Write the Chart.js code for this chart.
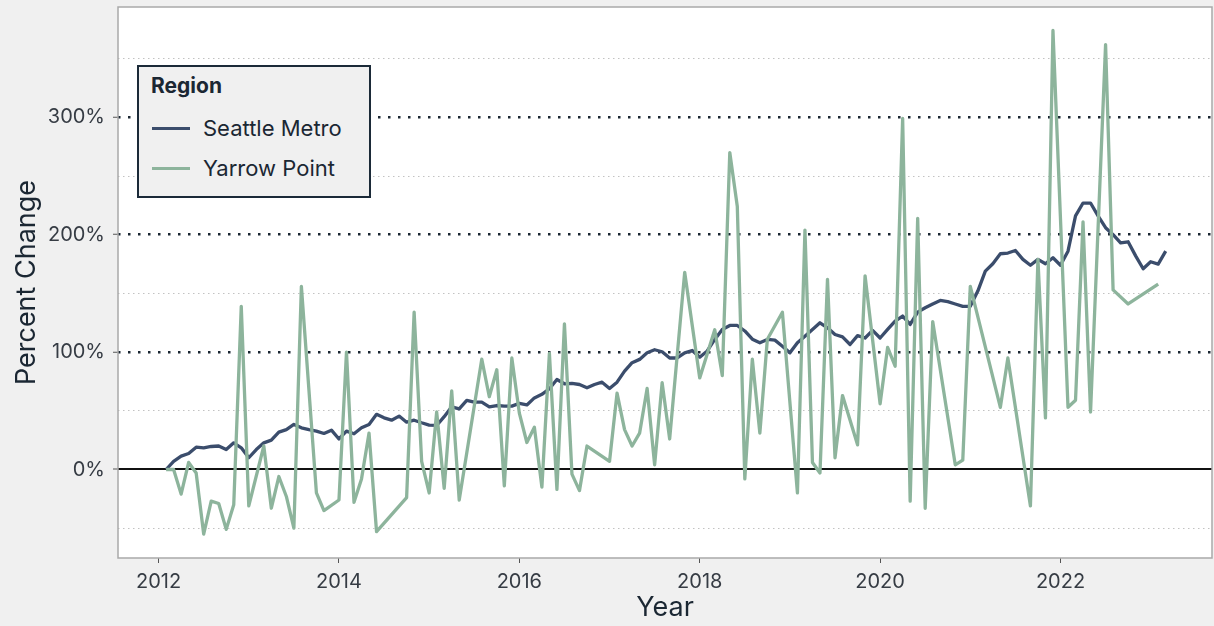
<!DOCTYPE html>
<html>
<head>
<meta charset="utf-8">
<title>Percent Change by Region</title>
<script src="https://cdn.jsdelivr.net/npm/chart.js@4.4.0/dist/chart.umd.min.js"></script>
<style>
  html, body { margin: 0; padding: 0; background: #f0f0f0; }
  #wrap { position: relative; width: 1214px; height: 626px; }
  #legend {
    position: absolute; left: 137px; top: 65px; width: 234px; height: 133px;
    box-sizing: border-box; border: 2px solid #1b2a38; background: #f0f0f0;
    font-family: Inter, "Noto Sans", sans-serif; color: #1b2733;
  }
  #legend .title { position: absolute; left: 12px; top: 6px; line-height: 26px; font-size: 21px; font-weight: 700; }
  #legend .item { position: absolute; left: 13px; height: 24px; display: flex; align-items: center; }
  #legend .swatch { width: 38px; height: 3px; margin-right: 13px; }
  #legend .label { font-size: 22px; }
</style>
</head>
<body>
<div id="wrap">
  <canvas id="chart" width="1214" height="626"></canvas>
  <div id="legend"></div>
</div>
<script>
// monthly series, first value is Feb 2012
const startYear = 2012;
const startMonth = 2;

const seattleMetro = [
  0, 7, 11.4, 13.6, 19, 18.5, 19.6, 20, 17, 22.7, 18.5,
  10, 17, 22.7, 25, 31.8, 34, 38.4, 35.5, 34, 32.7, 30.7, 33.5,
  26, 32.7, 30.4, 35.5, 38.4, 47, 44, 42, 45.5, 40.3, 42, 39.8,
  37.8, 37.5, 45, 53.4, 51.7, 58.8, 57.4, 57.4, 53.4, 54.5, 54, 54,
  56.3, 55, 61, 64, 68.8, 76.7, 73, 73.3, 72.4, 69.6, 72.4, 74.4,
  69, 74.4, 83.8, 91, 93.8, 99.4, 102, 100.3, 95, 95, 99.4, 101.4,
  95.7, 101, 110.8, 119.3, 122.7, 122.7, 118, 111, 108, 110.8, 110.2, 105,
  99.4, 108, 113.6, 119.3, 125, 120.7, 115, 113, 106.5, 114, 112, 118.5,
  112, 119.3, 126.4, 130.7, 123.6, 134, 137.8, 141, 144, 143, 141, 139,
  139, 152, 169, 175.3, 183.8, 184.4, 186.6, 179, 174, 179, 175.3, 180.4,
  174, 186, 216, 227, 227, 216, 206, 200, 193, 194, 182, 171,
  177, 175, 186
];

// null = no sales that month
const yarrowPoint = [
  0, 0, -21, 6, -3, -55, -27, -29, -51, -30, 139,
  -31, null, 20, -33, -6, -23, -50, 156, null, -20, -35, null,
  -26, 100, -28, -8, 31, -53, null, null, null, -24, 134, 7,
  -20, 49, -16, 67, -26, null, null, 94, 62, 85, -14, 95,
  48, 23, 36, -15, 99, -17, 124, -4, -18, 20, null, null,
  7, 65, 34, 20, 31, 69, 4, 74, 26, null, 168, null,
  78, null, 119, 80, 270, 224, -8, 94, 31, 111, null, 134,
  null, -20, 204, 6, -3, 162, 10, 63, null, 21, 165, null,
  56, 104, 88, 299, -27, 214, -33, 126, null, null, 4, 8,
  156, null, null, null, 53, 95, null, null, -31, 179, 44, 374,
  null, 53, 59, 211, 49, null, 362, 153, null, 141, null, null,
  null, 158, null
];

const yearTicks = [2012, 2014, 2016, 2018, 2020, 2022];
const percentTicks = [-50, 0, 50, 100, 150, 200, 250, 300, 350];
const labeledPercents = [0, 100, 200, 300];

const monthX = seattleMetro.map((_, i) => startYear + (startMonth - 1 + i) / 12);
const toPoints = arr => arr.map((v, i) => ({ x: monthX[i], y: v }));

const textColor = '#363c44';
const titleColor = '#1b2733';
const fontFamily = 'Inter, "Noto Sans", sans-serif';

const panel = {
  id: 'panel',
  beforeDraw(chart) {
    const { ctx, chartArea: a } = chart;
    ctx.save();
    ctx.fillStyle = '#ffffff';
    ctx.fillRect(a.left, a.top, a.right - a.left, a.bottom - a.top);
    ctx.restore();
  },
  afterDraw(chart) {
    const { ctx, chartArea: a } = chart;
    ctx.save();
    ctx.strokeStyle = '#a9a9a9';
    ctx.lineWidth = 1.5;
    ctx.strokeRect(a.left, a.top, a.right - a.left, a.bottom - a.top);
    ctx.restore();
  }
};

const isMajor = v => labeledPercents.includes(v);

const chart = new Chart(document.getElementById('chart'), {
  type: 'line',
  data: {
    datasets: [
      {
        label: 'Seattle Metro',
        data: toPoints(seattleMetro),
        borderColor: '#3b4d6c',
        borderWidth: 3.3,
        pointRadius: 0,
        tension: 0,
        borderJoinStyle: 'round',
        order: 1
      },
      {
        label: 'Yarrow Point',
        data: toPoints(yarrowPoint),
        borderColor: '#8db49c',
        borderWidth: 3.3,
        pointRadius: 0,
        tension: 0,
        spanGaps: true,
        borderJoinStyle: 'round',
        order: 0
      }
    ]
  },
  options: {
    responsive: false,
    animation: false,
    devicePixelRatio: 1,
    events: [],
    layout: { padding: { top: 7, right: 2, left: 0, bottom: 0 } },
    plugins: {
      legend: { display: false },
      tooltip: { enabled: false }
    },
    scales: {
      x: {
        type: 'linear',
        min: 2011.55,
        max: 2023.68,
        afterBuildTicks: scale => { scale.ticks = yearTicks.map(v => ({ value: v })); },
        afterFit: scale => {
          scale.height = 68;
          scale.paddingLeft = 0;
          scale.paddingRight = 0;
        },
        ticks: {
          callback: v => String(v),
          color: textColor,
          font: { family: fontFamily, size: 20 },
          padding: 7,
          maxRotation: 0,
          autoSkip: false
        },
        grid: { drawOnChartArea: false, tickLength: 5, tickColor: '#555', tickWidth: 1 },
        border: { display: false },
        title: {
          display: true,
          text: 'Year',
          color: titleColor,
          font: { family: fontFamily, size: 27 },
          padding: { top: 0, bottom: 2 }
        }
      },
      y: {
        min: -75.4,
        max: 394,
        afterBuildTicks: scale => { scale.ticks = percentTicks.map(v => ({ value: v })); },
        afterFit: scale => {
          scale.width = 118;
          scale.paddingTop = 0;
          scale.paddingBottom = 0;
        },
        ticks: {
          callback: v => (isMajor(v) ? v + '%' : ''),
          color: textColor,
          font: { family: fontFamily, size: 20 },
          padding: 8,
          autoSkip: false
        },
        grid: {
          color: ctx => (ctx.tick.value === 0 ? '#111111' : isMajor(ctx.tick.value) ? '#1b2733' : '#c2c2c2'),
          lineWidth: ctx => (ctx.tick.value === 0 ? 2 : isMajor(ctx.tick.value) ? 2.5 : 1),
          tickColor: ctx => (isMajor(ctx.tick.value) ? '#555' : 'rgba(0,0,0,0)'),
          tickLength: 5,
          tickWidth: 1
        },
        border: {
          display: false,
          dash: ctx => (ctx.tick.value === 0 ? [] : isMajor(ctx.tick.value) ? [2.5, 7.5] : [1.5, 3.5])
        },
        title: {
          display: true,
          text: 'Percent Change',
          color: titleColor,
          font: { family: fontFamily, size: 27 },
          padding: { top: 11 }
        }
      }
    }
  },
  plugins: [panel]
});

// legend box built from the chart's datasets
const legend = document.getElementById('legend');
legend.innerHTML = '<div class="title">Region</div>';
chart.data.datasets.forEach((ds, i) => {
  const item = document.createElement('div');
  item.className = 'item';
  item.style.top = (49 + i * 40) + 'px';
  item.innerHTML = `<span class="swatch" style="background:${ds.borderColor}"></span><span class="label">${ds.label}</span>`;
  legend.appendChild(item);
});
</script>
</body>
</html>
